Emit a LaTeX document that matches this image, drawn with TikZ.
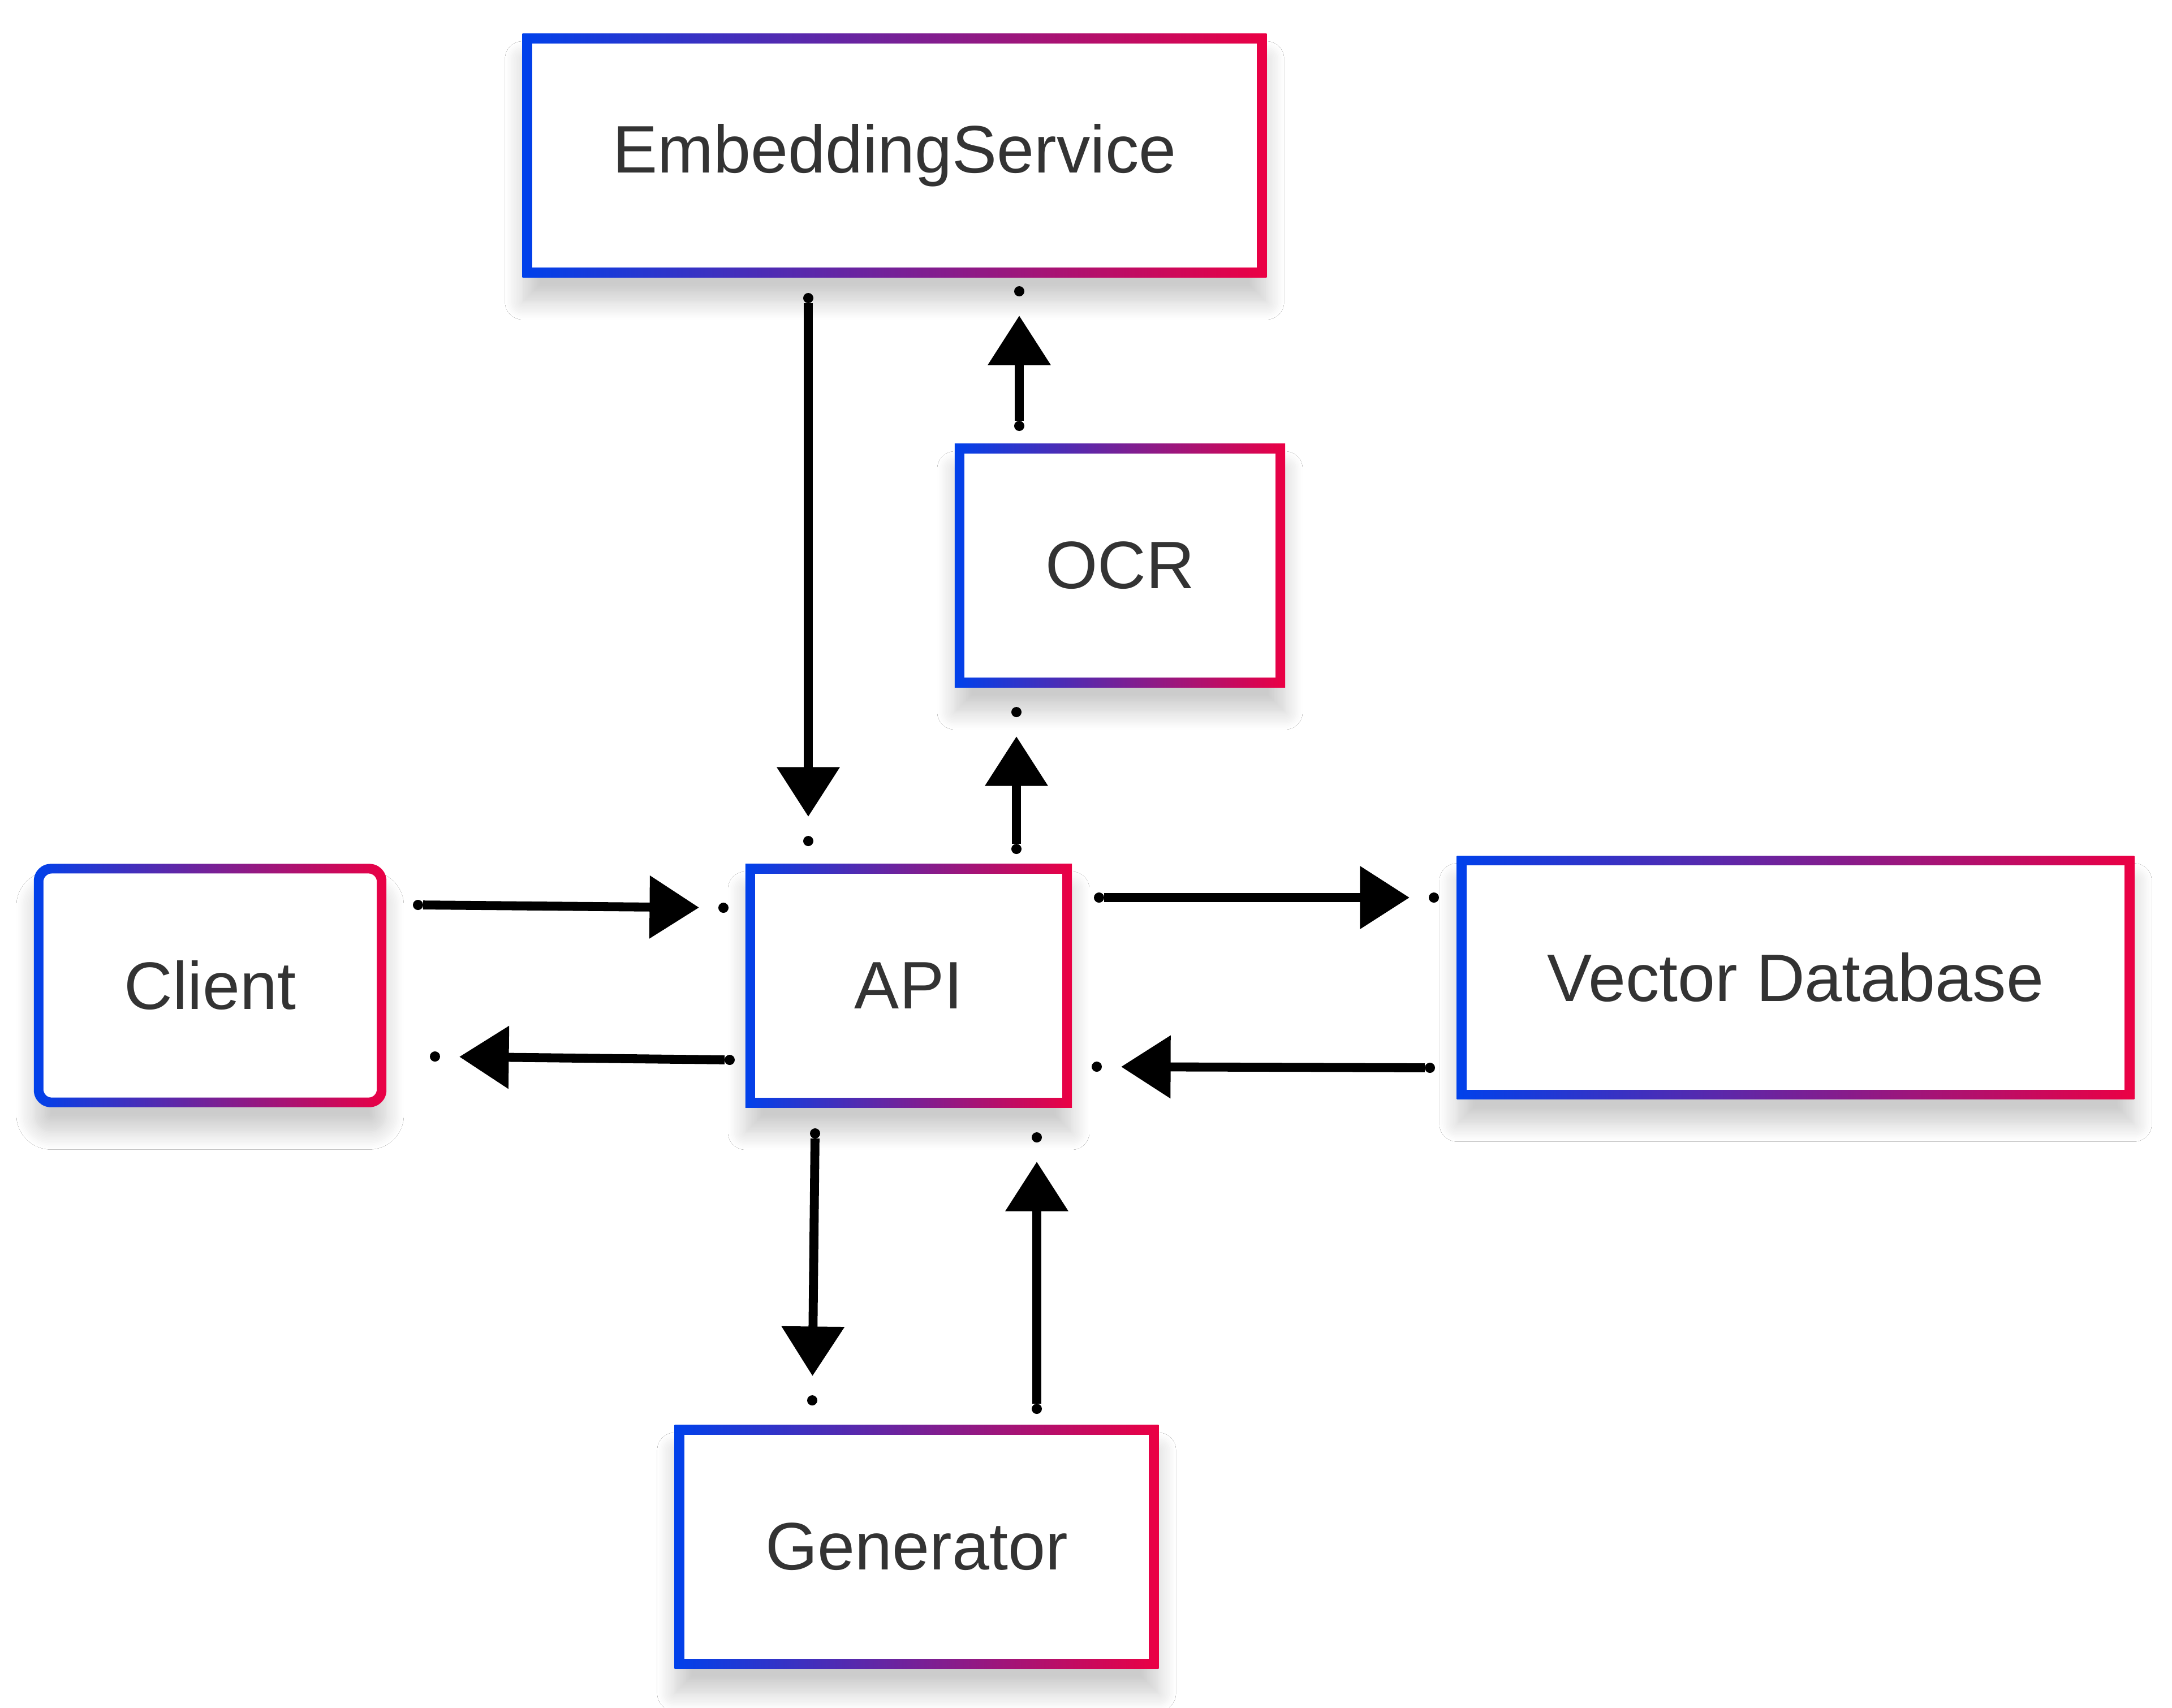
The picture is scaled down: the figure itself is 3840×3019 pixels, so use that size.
\documentclass[tikz,border=0pt]{standalone}
\usepackage{fontspec}
\setmainfont{Liberation Sans}
\usepackage{tikz}
\usetikzlibrary{arrows.meta,shadows.blur}
\definecolor{gradblue}{RGB}{0,65,235}
\definecolor{gradred}{RGB}{235,0,68}
\definecolor{ink}{RGB}{51,51,51}

\tikzset{
  box/.style={rectangle, minimum height=1.72cm, inner sep=0pt, outer sep=0pt,
    left color=gradblue, right color=gradred, text=ink,
    font=\fontsize{13.5pt}{16pt}\selectfont,
    blur shadow={shadow xshift=0pt, shadow yshift=-5pt, shadow blur radius=3.5pt,
      shadow blur steps=12, shadow opacity=20},
    path picture={\fill[white] ([shift={(0.068cm,0.068cm)}]path picture bounding box.south west)
      rectangle ([shift={(-0.068cm,-0.068cm)}]path picture bounding box.north east);}},
  roundbox/.style={box, rounded corners=0.12cm,
    path picture={\fill[white, rounded corners=0.06cm] ([shift={(0.068cm,0.068cm)}]path picture bounding box.south west)
      rectangle ([shift={(-0.068cm,-0.068cm)}]path picture bounding box.north east);}},
  dot/.style={circle, fill=black, inner sep=0pt, outer sep=0pt, minimum size=0.072cm},
  flow/.style={line width=1.8pt, -{Triangle[length=0.35cm, width=0.43cm]}, shorten >=0.136cm}
}

\begin{document}
\begin{tikzpicture}[x=0.004cm, y=-0.004cm]
\useasboundingbox (0, 0) rectangle (3840, 3019);
\fill[white] (0, 0) rectangle (3840, 3019);

% boxes
\node[box, minimum width=5.26cm] (emb) at (1581.5, 275) {EmbeddingService};
\node[box, minimum width=2.336cm] (ocr) at (1980, 1000) {OCR};
\node[roundbox, minimum width=2.492cm] (client) at (371.5, 1742.5) {Client};
\node[box, minimum width=2.308cm] (api) at (1606.5, 1743) {API};
\node[box, minimum width=4.788cm] (vdb) at (3174.5, 1728.5) {Vector Database};
\node[box, minimum width=3.42cm] (gen) at (1620.5, 2735) {Generator};

% end points of the connectors
\node[dot] (embout) at (1429, 527) {};
\node[dot] (apiin1) at (1429, 1487) {};
\node[dot] (apiout1) at (1797, 1501) {};
\node[dot] (ocrin) at (1797, 1259) {};
\node[dot] (ocrout) at (1802, 753) {};
\node[dot] (embin) at (1802, 515) {};
\node[dot] (clientout) at (739, 1600) {};
\node[dot] (apiin2) at (1279, 1605) {};
\node[dot] (apiout2) at (1290, 1874) {};
\node[dot] (clientin) at (769, 1868) {};
\node[dot] (apiout3) at (1943, 1587) {};
\node[dot] (vdbin) at (2535, 1587) {};
\node[dot] (vdbout) at (2528, 1888) {};
\node[dot] (apiin3) at (1939, 1886) {};
\node[dot] (apiout4) at (1441, 2004) {};
\node[dot] (genin) at (1436, 2476) {};
\node[dot] (genout) at (1833, 2491) {};
\node[dot] (apiin4) at (1833, 2011) {};

% connectors
\draw[flow] (embout) -- (apiin1);
\draw[flow] (apiout1) -- (ocrin);
\draw[flow] (ocrout) -- (embin);
\draw[flow] (clientout) -- (apiin2);
\draw[flow] (apiout2) -- (clientin);
\draw[flow] (apiout3) -- (vdbin);
\draw[flow] (vdbout) -- (apiin3);
\draw[flow] (apiout4) -- (genin);
\draw[flow] (genout) -- (apiin4);
\end{tikzpicture}
\end{document}
